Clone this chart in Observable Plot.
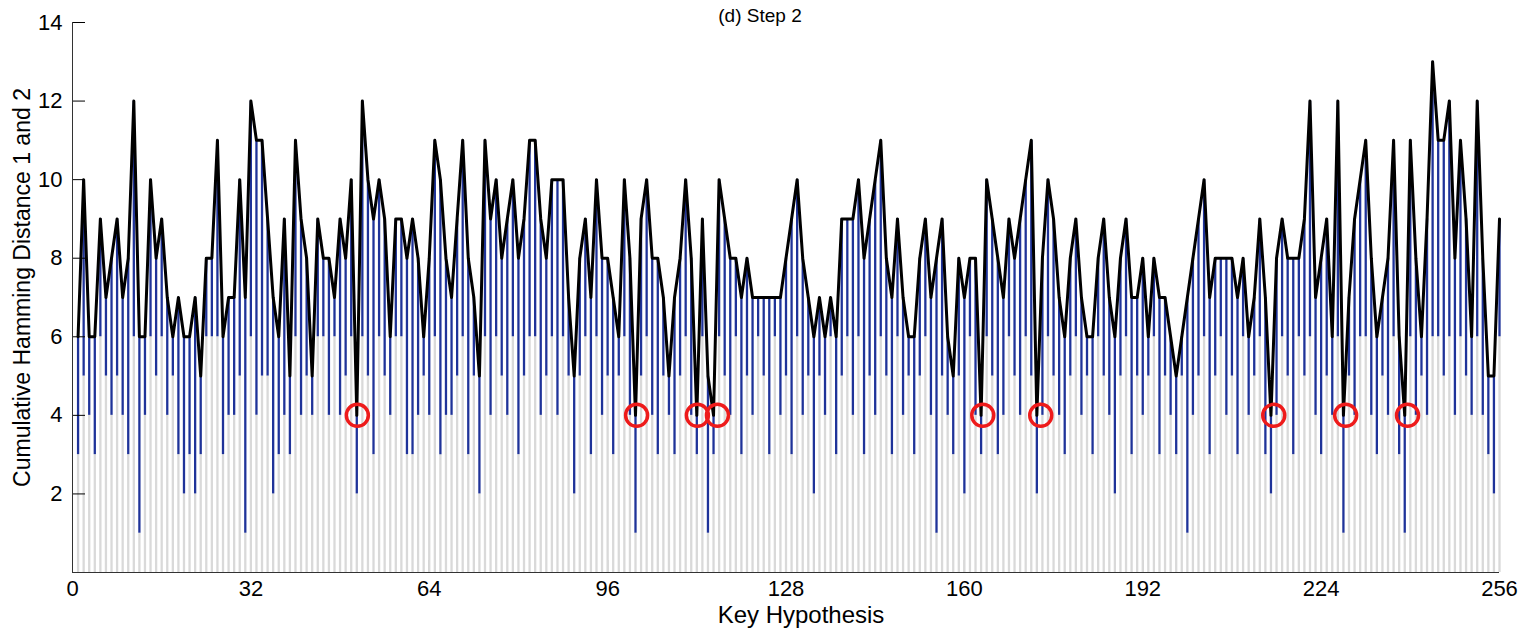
<!DOCTYPE html>
<html><head><meta charset="utf-8">
<script src="https://cdn.jsdelivr.net/npm/d3@7"></script>
<script src="https://cdn.jsdelivr.net/npm/@observablehq/plot@0.6"></script>
<style>body{margin:0;background:#fff;} svg{display:block;}</style>
</head><body><div id="chart"></div>
<script>
// Key hypotheses 1..256
const keys = d3.range(1, 257);
// Cumulative Hamming distance (black line, top of blue bars)
const totals = [
  6,10,6,6,9,7,8,9,7,8,12,6,6,10,8,9,
  7,6,7,6,6,7,5,8,8,11,6,7,7,10,7,12,
  11,11,9,7,6,9,5,11,9,8,5,9,8,8,7,9,
  8,10,4,12,10,9,10,9,6,9,9,8,9,8,6,8,
  11,10,8,7,9,11,8,7,5,11,9,10,8,9,10,8,
  9,11,11,9,8,10,10,10,7,5,8,9,7,10,8,8,
  7,6,10,8,4,9,10,8,8,7,5,7,8,10,8,4,
  9,5,4,10,9,8,8,7,8,7,7,7,7,7,7,8,
  9,10,8,7,6,7,6,7,6,9,9,9,10,8,9,10,
  11,8,7,9,7,6,6,8,9,7,8,9,6,5,8,7,
  8,8,4,10,9,8,7,9,8,9,10,11,4,8,10,9,
  7,6,8,9,7,6,6,8,9,7,6,8,9,7,7,8,
  6,8,7,7,6,5,6,7,8,9,10,7,8,8,8,8,
  7,8,6,7,9,7,4,8,9,8,8,8,9,12,7,8,
  9,6,12,4,7,9,10,11,8,6,7,8,11,6,4,11,
  8,6,9,13,11,11,12,8,11,9,6,12,8,5,5,9
];
// Level where the blue part of each bar starts (grey below)
const lows = [
  3,5,4,3,6,5,4,5,4,3,6,1,4,6,5,6,
  4,5,3,2,3,2,3,6,6,6,3,4,4,5,1,6,
  4,5,5,2,3,4,3,6,4,5,4,6,6,4,6,4,
  5,6,2,6,5,3,6,5,4,6,6,3,3,4,5,4,
  6,3,4,4,5,6,3,5,2,6,4,6,5,4,6,3,
  5,6,6,4,5,6,4,6,5,2,5,6,3,6,4,5,
  3,5,6,4,1,5,6,4,3,5,4,3,5,6,4,3,
  6,1,3,6,5,4,6,3,5,4,6,5,3,6,4,5,
  3,6,4,5,2,5,4,6,3,5,6,4,6,3,5,4,
  6,5,3,6,4,5,3,5,6,4,1,5,4,3,5,2,
  6,4,3,6,5,3,4,6,5,4,6,5,2,4,6,5,
  4,3,5,6,4,5,3,6,5,4,2,5,6,3,5,4,
  5,6,3,5,4,3,5,1,4,5,6,3,5,6,4,5,
  3,6,4,5,6,3,2,4,6,5,3,6,5,6,4,3,
  5,4,6,1,5,4,6,6,4,3,5,4,6,3,1,6,
  4,5,4,6,6,5,6,4,6,5,4,6,4,3,2,6
];
// Red circle annotations (key positions, at distance 4)
const circleKeys = [51.1, 101.2, 112.1, 115.7, 163.3, 173.7, 215.5, 228.4, 239.5];
const circleValues = [4, 4, 4, 4, 4, 4, 4, 4, 4];
const xTicks = [0, 32, 64, 96, 128, 160, 192, 224, 256];
const yTicks = [2, 4, 6, 8, 10, 12, 14];
const titleText = "(d) Step 2";
const xLabel = "Key Hypothesis";
const yLabel = "Cumulative Hamming Distance 1 and 2";

const data = keys.map((k, i) => ({k, total: totals[i], low: lows[i]}));
const circles = circleKeys.map((k, i) => ({k, v: circleValues[i]}));

const W = 1528, H = 637;
const mL = 72, mR = 29, mT = 22, mB = 65;
const frameW = W - mL - mR, frameH = H - mT - mB;
const font = "'Liberation Sans', Arial, Helvetica, sans-serif";

const chart = Plot.plot({
  width: W, height: H,
  marginLeft: mL, marginRight: mR, marginTop: mT, marginBottom: mB,
  x: {domain: [0, 256], axis: null},
  y: {domain: [0, 14], axis: null},
  style: {fontFamily: font, background: "#fff", color: "#000"},
  marks: [
    Plot.tickX(xTicks, {x: d => d, stroke: "#000", insetTop: frameH - 12}),
    Plot.ruleX(data, {x: "k", y1: 0, y2: "low", stroke: "#d9d9d9", strokeWidth: 2.3}),
    Plot.ruleX(data, {x: "k", y1: "low", y2: "total", stroke: "#1f3399", strokeWidth: 2.3}),
    Plot.line(data, {x: "k", y: "total", stroke: "#000", strokeWidth: 3}),
    Plot.dot(circles, {x: "k", y: "v", r: 11, stroke: "#ee1b1b", strokeWidth: 3.5}),
    Plot.tickY(yTicks, {y: d => d, stroke: "#000", insetRight: frameW - 13}),
    Plot.ruleX([0], {y1: 0, y2: 14, stroke: "#333"}),
    Plot.ruleY([0], {stroke: "#333"}),
    Plot.axisX(xTicks, {tickSize: 0, tickPadding: 8, fontSize: 22, label: null}),
    Plot.axisY(yTicks, {tickSize: 0, tickPadding: 10, fontSize: 22, label: null}),
    Plot.text([titleText], {frameAnchor: "top", dx: -26, dy: -14, fontSize: 19}),
    Plot.text([xLabel], {frameAnchor: "bottom", dx: 15, dy: 50, fontSize: 24}),
    Plot.text([yLabel], {frameAnchor: "left", textAnchor: "middle", dx: -50, dy: -10, rotate: -90, fontSize: 23})
  ]
});
document.getElementById("chart").appendChild(chart);
</script>
</body></html>
